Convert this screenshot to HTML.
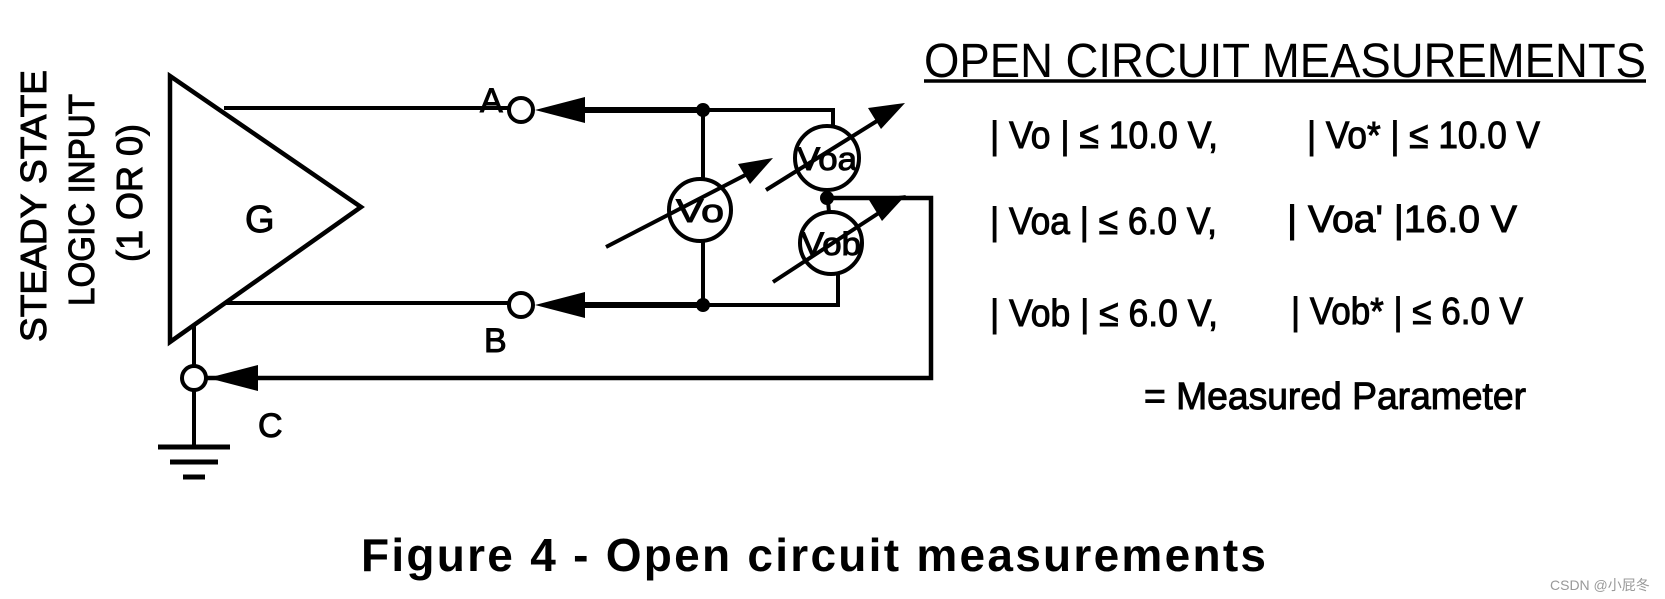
<!DOCTYPE html>
<html><head><meta charset="utf-8"><style>
html,body{margin:0;padding:0;background:#fff;}
svg{display:block;}
text{font-family:"Liberation Sans",sans-serif;fill:#000;}
.b{stroke:#000;stroke-width:1;}
</style></head><body>
<svg width="1665" height="599" viewBox="0 0 1665 599" xmlns="http://www.w3.org/2000/svg">
<g stroke="#000" fill="none" stroke-width="4">
<polygon points="170,76 361,207 170,342" stroke-width="4.5"/>
<line x1="224" y1="108" x2="509" y2="108"/>
<circle cx="521" cy="110" r="12"/>
<line x1="580" y1="110" x2="703" y2="110" stroke-width="6"/>
<polyline points="703,110 833,110 833,126"/>
<line x1="224" y1="303" x2="509" y2="303"/>
<circle cx="521" cy="305" r="12"/>
<line x1="580" y1="305" x2="703" y2="305" stroke-width="6"/>
<polyline points="703,305 838,305 838,274"/>
<line x1="703" y1="110" x2="703" y2="179"/>
<line x1="703" y1="241" x2="703" y2="305"/>
<circle cx="700" cy="210" r="31"/>
<circle cx="827" cy="158" r="32"/>
<circle cx="831" cy="243" r="31"/>
<line x1="827" y1="190" x2="829" y2="212"/>
<polyline points="827,198 931,198 931,378 206,378" stroke-width="4.5"/>
<circle cx="194" cy="378" r="12"/>
<line x1="194" y1="324" x2="194" y2="366"/>
<line x1="194" y1="390" x2="194" y2="447"/>
<line x1="158" y1="447" x2="230" y2="447" stroke-width="5"/>
<line x1="170" y1="462" x2="218" y2="462" stroke-width="5"/>
<line x1="183" y1="477" x2="205" y2="477" stroke-width="5"/>
<line x1="606" y1="247" x2="755" y2="170"/>
<line x1="766" y1="190" x2="885" y2="116"/>
<line x1="773" y1="282" x2="888" y2="207"/>
</g>
<g fill="#000">
<circle cx="703" cy="110" r="7"/>
<circle cx="703" cy="305" r="7"/>
<circle cx="827" cy="198" r="7"/>
<polygon points="535,110 585,97 585,123"/>
<polygon points="535,305 585,292 585,318"/>
<polygon points="208,378 258,365 258,391"/>
<polygon points="773,158 738,164 750,184"/>
<polygon points="905,103 868,108 881,129"/>
<polygon points="906,195 869,200 882,221"/>
</g>
<g>
<text class="b" x="245" y="232" font-size="38">G</text>
<text class="b" x="480" y="112" font-size="34">A</text>
<text class="b" x="484" y="352" font-size="34">B</text>
<text class="b" x="258" y="437" font-size="34">C</text>
<text class="b" x="700" y="222" font-size="32" text-anchor="middle" textLength="48" lengthAdjust="spacingAndGlyphs">Vo</text>
<text class="b" x="827" y="170" font-size="32" text-anchor="middle" textLength="60" lengthAdjust="spacingAndGlyphs">Voa</text>
<text class="b" x="831" y="255" font-size="32" text-anchor="middle" textLength="60" lengthAdjust="spacingAndGlyphs">Vob</text>
<g font-size="36" class="b">
<text class="b" transform="translate(46,206) rotate(-90)" text-anchor="middle" textLength="272" lengthAdjust="spacingAndGlyphs">STEADY STATE</text>
<text class="b" transform="translate(94,200) rotate(-90)" text-anchor="middle" textLength="212" lengthAdjust="spacingAndGlyphs">LOGIC INPUT</text>
<text class="b" transform="translate(142,193) rotate(-90)" text-anchor="middle" textLength="138" lengthAdjust="spacingAndGlyphs">(1 OR 0)</text>
</g>
<text x="924" y="77" font-size="48" textLength="722" lengthAdjust="spacingAndGlyphs">OPEN CIRCUIT MEASUREMENTS</text>
<line x1="924" y1="81" x2="1646" y2="81" stroke="#000" stroke-width="3.5"/>
<g font-size="38">
<text class="b" x="990" y="148" textLength="228" lengthAdjust="spacingAndGlyphs">| Vo | ≤ 10.0 V,</text>
<text class="b" x="1307" y="148" textLength="233" lengthAdjust="spacingAndGlyphs">| Vo* | ≤ 10.0 V</text>
<text class="b" x="990" y="234" textLength="227" lengthAdjust="spacingAndGlyphs">| Voa | ≤ 6.0 V,</text>
<text class="b" x="1287" y="232" textLength="230" lengthAdjust="spacingAndGlyphs">| Voa'  |16.0 V</text>
<text class="b" x="990" y="326" textLength="228" lengthAdjust="spacingAndGlyphs">| Vob | ≤ 6.0 V,</text>
<text class="b" x="1291" y="324" textLength="232" lengthAdjust="spacingAndGlyphs">| Vob* | ≤ 6.0 V</text>
<text class="b" x="1144" y="409" textLength="382" lengthAdjust="spacingAndGlyphs">= Measured Parameter</text>
</g>
<text x="361" y="571" font-size="46" font-weight="bold" textLength="905" lengthAdjust="spacing">Figure 4 - Open circuit measurements</text>
<text x="1550" y="590" font-size="14" style="fill:#999">CSDN @小屁冬</text>
</g>
</svg>
</body></html>
